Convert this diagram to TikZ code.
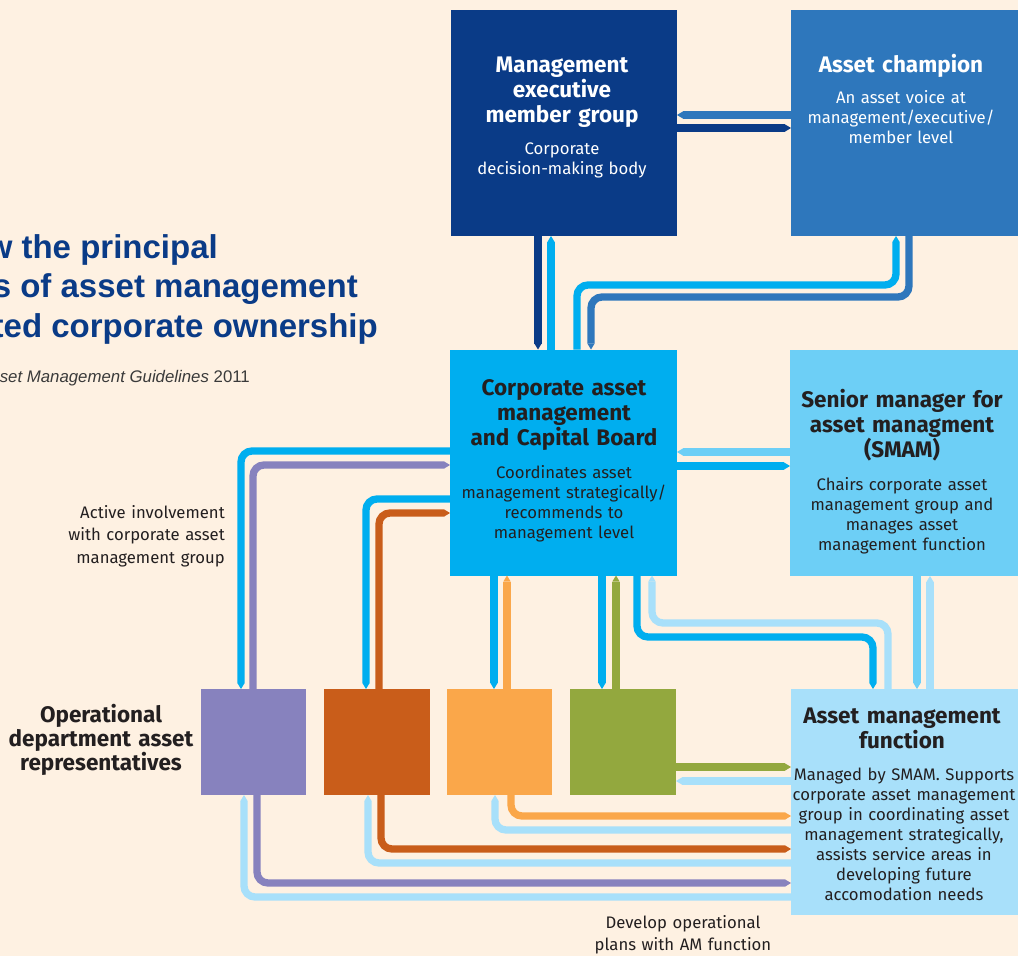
\documentclass[tikz,border=0pt]{standalone}
\usepackage{fontspec}
\setmainfont{Fira Sans}
\newfontfamily\headfont{Liberation Sans}
\usetikzlibrary{arrows.meta}
\definecolor{bg}{HTML}{FEF1E2}
\definecolor{navy}{HTML}{0A3B87}
\definecolor{champc}{HTML}{2E77BC}
\definecolor{cyanb}{HTML}{00AEEF}
\definecolor{smamc}{HTML}{6DCFF6}
\definecolor{amfc}{HTML}{A8E0FA}
\definecolor{purp}{HTML}{8782BE}
\definecolor{dor}{HTML}{C95D1A}
\definecolor{lor}{HTML}{FAA74A}
\definecolor{grn}{HTML}{93A83E}
\definecolor{ink}{HTML}{231F20}
\definecolor{subgrey}{HTML}{3A3A3A}
\tikzset{
  bigbox/.style={minimum width=#1, minimum height=226pt, inner sep=0pt, outer sep=0pt},
  smallbox/.style={minimum width=#1, minimum height=106pt, inner sep=0pt, outer sep=0pt},
  conn/.style={draw=#1, line width=7.3pt, rounded corners=11pt,
    -{Triangle[length=6pt,width=7.3pt,line width=0pt]}},
  btitle/.style={font=\fontsize{22.5}{25}\selectfont\bfseries, align=center, text width=250pt, anchor=base, inner sep=0pt},
  btext/.style={font=\fontsize{16.7}{20}\selectfont, align=center, text width=250pt, anchor=base, inner sep=0pt},
  headline/.style={font=\headfont\fontsize{33}{40}\selectfont\bfseries, text=navy, anchor=base east, inner sep=0pt},
  note/.style={font=\fontsize{16.7}{22.8}\selectfont, text=ink, inner sep=0pt},
}
\begin{document}
\begin{tikzpicture}[x=1pt,y=-1pt]
\useasboundingbox (0,0) rectangle (1018,956);
\fill[bg] (0,0) rectangle (1018,956);

% headline (cropped in the reference)
\node[headline] (h1) at (218,258) {w the principal};
\node[headline] (h2) at (358,297) {s of asset management};
\node[headline] (h3) at (378,337) {ted corporate ownership};
\node[font=\headfont\fontsize{16.8}{20}\selectfont, text=subgrey, anchor=base east, inner sep=0pt] (h4) at (250,382) {\itshape set Management Guidelines\upshape{} 2011};

% boxes
\node[bigbox=226pt, fill=navy] (memg) at (564,123) {};
\node[bigbox=227pt, fill=champc] (champ) at (904.5,123) {};
\node[bigbox=227pt, fill=cyanb] (camcb) at (563.5,462.5) {};
\node[bigbox=228pt, fill=smamc] (smam) at (904,463) {};
\node[bigbox=227pt, fill=amfc] (amf) at (904.5,802) {};
\node[smallbox=105pt, fill=purp] (purple) at (253.5,742) {};
\node[smallbox=106pt, fill=dor] (dorange) at (377,742) {};
\node[smallbox=105pt, fill=lor] (lorange) at (499.5,742) {};
\node[smallbox=106pt, fill=grn] (green) at (623,742) {};

% box texts
\node[btitle, text=white] (memg-t) at (562,72) {Management\\executive\\member group};
\node[btext, text=white] (memg-b) at (562,154) {Corporate\\decision-making body};
\node[btitle, text=white] (champ-t) at (901,72) {Asset champion};
\node[btext, text=white] (champ-b) at (901,103) {An asset voice at\\management/executive/\\member level};
\node[btitle, text=ink] (camcb-t) at (564,395) {Corporate asset\\management\\and Capital Board};
\node[btext, text=ink] (camcb-b) at (564,478) {Coordinates asset\\management strategically/\\recommends to\\management level};
\node[btitle, text=ink] (smam-t) at (902,407) {Senior manager for\\asset managment\\(SMAM)};
\node[btext, text=ink] (smam-b) at (902,490) {Chairs corporate asset\\management group and\\manages asset\\management function};
\node[btitle, text=ink] (amf-t) at (902,723) {Asset management\\function};
\node[btext, text=ink] (amf-b) at (904,780) {Managed by SMAM. Supports\\corporate asset management\\group in coordinating asset\\management strategically,\\assists service areas in\\developing future\\accomodation needs};

% side labels
\node[note, align=right, text width=200pt, anchor=base east] (lab-active) at (225,518) {Active involvement\\with corporate asset\\management group};
\node[font=\fontsize{22.5}{24}\selectfont\bfseries, text=ink, align=center, anchor=base, inner sep=0pt, text width=200pt] (lab-oper) at (101,722) {Operational\\department asset\\representatives};
\node[note, font=\fontsize{16.7}{22}\selectfont, align=center, anchor=base, text width=220pt] (lab-dev) at (683,928) {Develop operational\\plans with AM function};

% top connectors
\draw[conn=champc] (champ.west |- 0,115) -- (memg.east |- 0,115);
\draw[conn=navy] (memg.east |- 0,128) -- (champ.west |- 0,128);
\draw[conn=navy] (memg.south -| 538,0) -- (camcb.north -| 538,0);
\draw[conn=cyanb] (camcb.north -| 551,0) -- (memg.south -| 551,0);
\draw[conn=cyanb] (camcb.north -| 577,0) -- (577,285) -- (896,285) -- (champ.south -| 896,0);
\draw[conn=champc] (champ.south -| 909,0) -- (909,297) -- (591,297) -- (camcb.north -| 591,0);

% CAMCB <-> SMAM
\draw[conn=smamc] (smam.west |- 0,452) -- (camcb.east |- 0,452);
\draw[conn=cyanb] (camcb.east |- 0,466) -- (smam.west |- 0,466);

% CAMCB <-> operational boxes
\draw[conn=cyanb] (camcb.west |- 0,451) -- (241,451) -- (purple.north -| 241,0);
\draw[conn=purp] (purple.north -| 253,0) -- (253,465) -- (camcb.west |- 0,465);
\draw[conn=cyanb] (camcb.west |- 0,499) -- (366,499) -- (dorange.north -| 366,0);
\draw[conn=dor] (dorange.north -| 379,0) -- (379,513) -- (camcb.west |- 0,513);
\draw[conn=cyanb] (camcb.south -| 494,0) -- (lorange.north -| 494,0);
\draw[conn=lor] (lorange.north -| 507,0) -- (camcb.south -| 507,0);
\draw[conn=cyanb] (camcb.south -| 602,0) -- (green.north -| 602,0);
\draw[conn=grn] (green.north -| 616,0) -- (camcb.south -| 616,0);

% CAMCB <-> AMF, SMAM <-> AMF
\draw[conn=cyanb] (camcb.south -| 637,0) -- (637,637) -- (873,637) -- (amf.north -| 873,0);
\draw[conn=amfc] (amf.north -| 888,0) -- (888,623) -- (652,623) -- (camcb.south -| 652,0);
\draw[conn=smamc] (smam.south -| 917,0) -- (amf.north -| 917,0);
\draw[conn=amfc] (amf.north -| 930,0) -- (smam.south -| 930,0);

% operational boxes <-> AMF
\draw[conn=grn] (green.east |- 0,767) -- (amf.west |- 0,767);
\draw[conn=amfc] (amf.west |- 0,781) -- (green.east |- 0,781);
\draw[conn=lor] (lorange.south -| 511,0) -- (511,816) -- (amf.west |- 0,816);
\draw[conn=amfc] (amf.west |- 0,830) -- (495,830) -- (lorange.south -| 495,0);
\draw[conn=dor] (dorange.south -| 381,0) -- (381,849) -- (amf.west |- 0,849);
\draw[conn=amfc] (amf.west |- 0,863) -- (368,863) -- (dorange.south -| 368,0);
\draw[conn=purp] (purple.south -| 257,0) -- (257,883) -- (amf.west |- 0,883);
\draw[conn=amfc] (amf.west |- 0,897) -- (244,897) -- (purple.south -| 244,0);
\end{tikzpicture}
\end{document}
